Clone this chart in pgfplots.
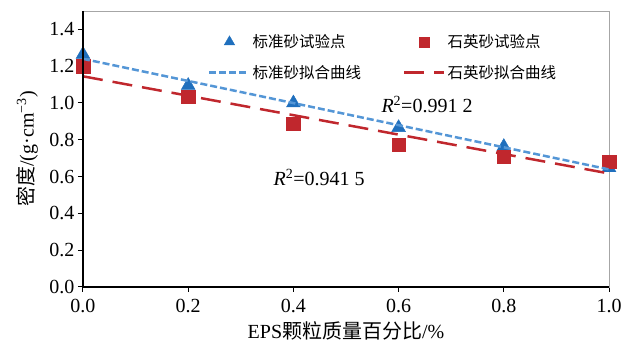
\documentclass[border=0pt]{standalone}
\usepackage{pgfplots}
\pgfplotsset{compat=1.18}
\usepackage{fontspec}
\setmainfont{Liberation Serif}
\newfontfamily\cjk{Noto Sans CJK SC}
\definecolor{triblue}{RGB}{31,111,189}
\definecolor{lineblue}{RGB}{84,150,214}
\definecolor{sqred}{RGB}{192,39,45}
\pgfplotsset{
  legtri/.style={legend image code/.code={\draw[##1, mark size=6pt] plot coordinates {(20pt,0pt)};}},
  legsq/.style={legend image code/.code={\draw[##1, mark size=5pt] plot coordinates {(20pt,0pt)};}},
}
\begin{document}
\begin{tikzpicture}
\useasboundingbox (-83pt,-60pt) rectangle (549pt,287pt);
\begin{axis}[
  at={(0,0)}, anchor=south west,
  scale only axis, width=526pt, height=276pt,
  xmin=0, xmax=1, ymin=0, ymax=1.5,
  xtick={0,0.2,...,1.0}, ytick={0,0.2,...,1.4},
  xticklabel style={yshift=-4pt,/pgf/number format/.cd,fixed,fixed zerofill,precision=1},
  yticklabel style={/pgf/number format/.cd,fixed,fixed zerofill,precision=1},
  /pgf/number format/assume math mode=true,
  tick label style={font=\fontsize{20}{22}\selectfont},
  xtick pos=bottom, ytick pos=left, tick align=outside,
  major tick length=5pt,
  tick style={black, line width=1pt},
  axis line style={gray!70, line width=0.6pt},
  xlabel={EPS{\cjk 颗粒质量百分比}/\%},
  ylabel={{\cjk 密度}/(g·cm\textsuperscript{−3})},
  label style={font=\fontsize{20}{22}\selectfont},
  xlabel style={at={(axis description cs:0.5,-0.16)}, anchor=center},
  ylabel style={at={(axis description cs:-0.106,0.5)}, anchor=center},
  clip mode=individual,
  legend columns=2,
  legend style={draw=none, fill=none, at={(axis description cs:0.232,0.93)}, anchor=north west,
    font=\fontsize{15.5}{18}\selectfont\cjk, row sep=12pt,
    /tikz/every even column/.append style={column sep=40pt}},
  legend cell align=left,
  legend image code/.code={\draw[mark repeat=2,mark phase=2,#1] plot coordinates {(0pt,0pt) (20pt,0pt) (40pt,0pt)};},
]
\addplot[only marks, mark=triangle*, mark size=8pt, color=triblue, legtri]
  coordinates {(0,1.264) (0.2,1.095) (0.4,1.000) (0.6,0.866) (0.8,0.763) (1.0,0.648)};
\addlegendentry{标准砂试验点}
\addplot[only marks, mark=square*, mark size=6.8pt, color=sqred, legsq]
  coordinates {(0,1.200) (0.2,1.035) (0.4,0.888) (0.6,0.773) (0.8,0.708) (1.0,0.680)};
\addlegendentry{石英砂试验点}
\addplot[no marks, color=lineblue, line width=2.5pt, dash pattern=on 7pt off 3pt]
  coordinates {(0,1.240) (1.0,0.639)};
\addlegendentry{标准砂拟合曲线}
\addplot[no marks, color=sqred, line width=2.5pt, dash pattern=on 20pt off 10pt]
  coordinates {(0,1.145) (1.0,0.617)};
\addlegendentry{石英砂拟合曲线}
\node[font=\fontsize{20}{22}\selectfont] at (axis cs:0.654,0.991) {\textit{R}\textsuperscript{2}=0.991 2};
\node[font=\fontsize{20}{22}\selectfont] at (axis cs:0.449,0.594) {\textit{R}\textsuperscript{2}=0.941 5};
\draw[black, line width=1.3pt] (axis description cs:0,1) -- (axis description cs:0,0) -- (axis description cs:1,0);
\end{axis}
\end{tikzpicture}
\end{document}
